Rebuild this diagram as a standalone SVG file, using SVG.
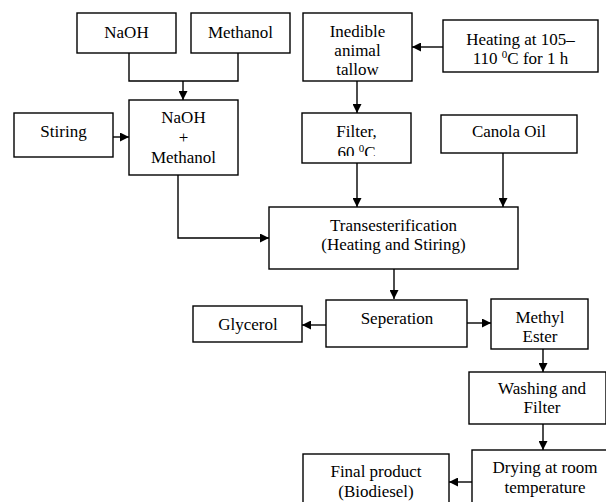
<svg xmlns="http://www.w3.org/2000/svg" width="606" height="502" viewBox="0 0 606 502">
<style>
.box{fill:#fff;stroke:#000;stroke-width:1.4}
.conn{fill:none;stroke:#000;stroke-width:1.4}
</style>
<defs>
<marker id="ah" viewBox="0 0 10 10" refX="10" refY="5" markerWidth="9" markerHeight="9" markerUnits="userSpaceOnUse" orient="auto">
<path d="M0,0 L10,5 L0,10 z" fill="#000"/>
</marker>
<clipPath id="clipFilter"><rect x="302" y="113" width="109" height="43"/></clipPath>
</defs>
<rect width="606" height="502" fill="#fff"/>
<g id="connectors">
<path class="conn" d="M129,53 V81 H238 V53"/>
<path class="conn" d="M183,81 V100" marker-end="url(#ah)"/>
<path class="conn" d="M113,137 H129" marker-end="url(#ah)"/>
<path class="conn" d="M443,47 H412" marker-end="url(#ah)"/>
<path class="conn" d="M357,81 V113" marker-end="url(#ah)"/>
<path class="conn" d="M178,175 V238 H269" marker-end="url(#ah)"/>
<path class="conn" d="M357,163 V207" marker-end="url(#ah)"/>
<path class="conn" d="M503,153 V207" marker-end="url(#ah)"/>
<path class="conn" d="M394,269 V299" marker-end="url(#ah)"/>
<path class="conn" d="M326,325 H302" marker-end="url(#ah)"/>
<path class="conn" d="M467,323 H491" marker-end="url(#ah)"/>
<path class="conn" d="M543,349 V372" marker-end="url(#ah)"/>
<path class="conn" d="M543,424 V450" marker-end="url(#ah)"/>
<path class="conn" d="M472,482 H449" marker-end="url(#ah)"/>
</g>
<g id="naoh"><rect class="box" x="77" y="13" width="99" height="40"/><text font-family="Liberation Serif" font-size="17" text-anchor="middle" x="126.5" y="38">NaOH</text></g>
<g id="methanol"><rect class="box" x="191" y="13" width="99" height="40"/><text font-family="Liberation Serif" font-size="17" text-anchor="middle" x="240.5" y="38">Methanol</text></g>
<g id="mix"><rect class="box" x="129" y="100" width="109" height="75"/><text font-family="Liberation Serif" font-size="17" text-anchor="middle" x="183.5" y="123">NaOH</text><text font-family="Liberation Serif" font-size="17" text-anchor="middle" x="183.5" y="143">+</text><text font-family="Liberation Serif" font-size="17" text-anchor="middle" x="183.5" y="163">Methanol</text></g>
<g id="stiring"><rect class="box" x="14" y="113" width="99" height="44"/><text font-family="Liberation Serif" font-size="17" text-anchor="middle" x="63.5" y="137">Stiring</text></g>
<g id="tallow"><rect class="box" x="303" y="13" width="109" height="68"/><text font-family="Liberation Serif" font-size="17" text-anchor="middle" x="357.5" y="37">Inedible</text><text font-family="Liberation Serif" font-size="17" text-anchor="middle" x="357.5" y="56">animal</text><text font-family="Liberation Serif" font-size="17" text-anchor="middle" x="357.5" y="75">tallow</text></g>
<g id="heating"><rect class="box" x="443" y="20" width="155" height="52"/><text font-family="Liberation Serif" font-size="17" text-anchor="middle" x="520.5" y="45">Heating at 105&#8211;</text><text font-family="Liberation Serif" font-size="17" text-anchor="middle" x="520.5" y="64">110 <tspan font-size="11" dy="-6">0</tspan><tspan dy="6">C for 1 h</tspan></text></g>
<g id="filter"><rect class="box" x="302" y="113" width="109" height="50"/><g clip-path="url(#clipFilter)"><text font-family="Liberation Serif" font-size="17" text-anchor="middle" x="356.5" y="137">Filter,</text><text font-family="Liberation Serif" font-size="17" text-anchor="middle" x="356.5" y="158">60 <tspan font-size="11" dy="-6">0</tspan><tspan dy="6">C</tspan></text></g></g>
<g id="canola"><rect class="box" x="441" y="115" width="136" height="38"/><text font-family="Liberation Serif" font-size="17" text-anchor="middle" x="509" y="137">Canola Oil</text></g>
<g id="trans"><rect class="box" x="269" y="207" width="249" height="62"/><text font-family="Liberation Serif" font-size="17" text-anchor="middle" x="393.5" y="231">Transesterification</text><text font-family="Liberation Serif" font-size="17" text-anchor="middle" x="393.5" y="250">(Heating and Stiring)</text></g>
<g id="seperation"><rect class="box" x="326" y="300" width="141" height="47"/><text font-family="Liberation Serif" font-size="17" text-anchor="middle" x="397" y="324">Seperation</text></g>
<g id="glycerol"><rect class="box" x="193" y="306" width="109" height="36"/><text font-family="Liberation Serif" font-size="17" text-anchor="middle" x="248" y="330">Glycerol</text></g>
<g id="ester"><rect class="box" x="491" y="299" width="97" height="50"/><text font-family="Liberation Serif" font-size="17" text-anchor="middle" x="540" y="323">Methyl</text><text font-family="Liberation Serif" font-size="17" text-anchor="middle" x="540" y="342">Ester</text></g>
<g id="washing"><rect class="box" x="469" y="372" width="137" height="52"/><text font-family="Liberation Serif" font-size="17" text-anchor="middle" x="542" y="394">Washing and</text><text font-family="Liberation Serif" font-size="17" text-anchor="middle" x="542" y="413">Filter</text></g>
<g id="drying"><rect class="box" x="472" y="450" width="136" height="60"/><text font-family="Liberation Serif" font-size="17" text-anchor="middle" x="545" y="473">Drying at room</text><text font-family="Liberation Serif" font-size="17" text-anchor="middle" x="545" y="493">temperature</text></g>
<g id="final"><rect class="box" x="303" y="454" width="146" height="60"/><text font-family="Liberation Serif" font-size="17" text-anchor="middle" x="376" y="477">Final product</text><text font-family="Liberation Serif" font-size="17" text-anchor="middle" x="376" y="497">(Biodiesel)</text></g>
</svg>
